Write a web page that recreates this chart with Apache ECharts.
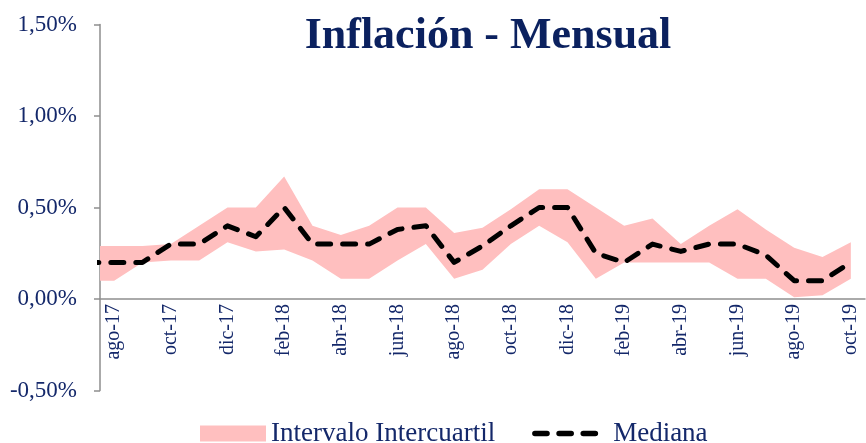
<!DOCTYPE html>
<html>
<head>
<meta charset="utf-8">
<script src="https://cdn.jsdelivr.net/npm/echarts@6/dist/echarts.min.js"></script>
<style>
html,body{margin:0;padding:0;background:#ffffff;}
#chart{width:866px;height:443px;}
</style>
</head>
<body>
<div id="chart"></div>
<script>
// Months (first entry jul-17 lies just left of the plotted range and is clipped)
const months = ['jul-17','ago-17','sep-17','oct-17','nov-17','dic-17','ene-18','feb-18','mar-18','abr-18','may-18','jun-18','jul-18',
  'ago-18','sep-18','oct-18','nov-18','dic-18','ene-19','feb-19','mar-19','abr-19','may-19','jun-19','jul-19','ago-19','sep-19','oct-19'];
// Lower quartile (%)
const lowerQ = [0.10,0.10,0.20,0.21,0.21,0.31,0.26,0.27,0.21,0.11,0.11,0.21,0.30,
  0.11,0.16,0.30,0.40,0.31,0.11,0.20,0.20,0.20,0.20,0.11,0.11,0.01,0.02,0.11];
// Median (%)
const medianQ = [0.20,0.20,0.20,0.30,0.30,0.40,0.34,0.50,0.30,0.30,0.30,0.38,0.40,
  0.20,0.29,0.40,0.50,0.50,0.25,0.20,0.30,0.26,0.30,0.30,0.24,0.10,0.10,0.20];
// Upper quartile (%)
const upperQ = [0.29,0.29,0.29,0.30,0.40,0.50,0.50,0.67,0.40,0.35,0.40,0.50,0.50,
  0.36,0.39,0.49,0.60,0.60,0.50,0.40,0.44,0.30,0.40,0.49,0.38,0.28,0.23,0.31];
// Y axis range / step (%)
const yMin = -0.5, yMax = 1.5, yStep = 0.5;

const navy = '#14286a';
const serif = '"Liberation Serif", "DejaVu Serif", serif';
const axisGray = '#8e8e8e';

const gridTop = 24.5, gridBottom = 52.5, chartH = 443;
// distance from grid bottom up to the zero line
const plotH = chartH - gridTop - gridBottom;
const zeroOffset = -plotH * (0 - yMin) / (yMax - yMin);

// data as [value, monthIndex] so that stacking is done on the value dimension
const baseData = months.map((m, i) => [lowerQ[i], i]);
const bandData = months.map((m, i) => [+(upperQ[i] - lowerQ[i]).toFixed(4), i]);
const medData = months.map((m, i) => [medianQ[i], i]);

const dashIcon = 'path://M3,0h13a3,3 0 0 1 0,6h-13a3,3 0 0 1 0,-6z M29,0h13a3,3 0 0 1 0,6h-13a3,3 0 0 1 0,-6z M55,0h13a3,3 0 0 1 0,6h-13a3,3 0 0 1 0,-6z';

const chart = echarts.init(document.getElementById('chart'), null, {renderer: 'canvas'});
chart.setOption({
  animation: false,
  backgroundColor: '#ffffff',
  title: {
    text: 'Inflación - Mensual',
    left: 488, top: 15, padding: 0, textAlign: 'center',
    textStyle: {fontFamily: serif, fontSize: 44, fontWeight: 'bold', color: '#0b215f'}
  },
  legend: {
    left: 200, top: 420, padding: 0, itemGap: 37, itemWidth: 66, itemHeight: 16,
    textStyle: {fontFamily: serif, fontSize: 27, color: navy},
    data: [
      {name: 'Intervalo Intercuartil', icon: 'rect', itemStyle: {color: '#ffbfbf'}},
      {name: 'Mediana', icon: dashIcon, itemStyle: {color: '#000000'},
        textStyle: {padding: [0, 0, 0, 10]}}
    ]
  },
  grid: {left: 100, right: 1, top: gridTop, bottom: gridBottom, containLabel: false, outerBoundsMode: 'none'},
  xAxis: [
    {
      type: 'category', data: months.slice(1), boundaryGap: true,
      position: 'bottom', offset: zeroOffset,
      axisLine: {onZero: false, lineStyle: {color: axisGray, width: 1.5}},
      axisTick: {interval: 1, length: 6, lineStyle: {color: axisGray, width: 1.5}},
      axisLabel: {interval: 1, rotate: 90, margin: 5, fontFamily: serif, fontSize: 20, color: navy},
      splitLine: {show: false}, z: 5
    },
    {type: 'value', min: 0.5, max: 27.5, show: false}
  ],
  yAxis: {
    type: 'value', min: yMin, max: yMax, interval: yStep,
    axisLine: {show: true, onZero: false, lineStyle: {color: axisGray, width: 1.5}},
    axisTick: {show: true, length: 6, lineStyle: {color: axisGray, width: 1.5}},
    axisLabel: {margin: 23, fontFamily: serif, fontSize: 23, color: navy,
      formatter: v => v.toFixed(2).replace('.', ',') + '%'},
    splitLine: {show: false}
  },
  series: [
    {
      name: 'base', type: 'line', xAxisIndex: 1, stack: 'band', data: baseData,
      encode: {x: 1, y: 0}, symbol: 'none', lineStyle: {width: 0, opacity: 0}, silent: true, z: 1
    },
    {
      name: 'Intervalo Intercuartil', type: 'line', xAxisIndex: 1, stack: 'band', data: bandData,
      encode: {x: 1, y: 0}, symbol: 'none', lineStyle: {width: 0, opacity: 0},
      itemStyle: {color: '#ffbfbf'},
      areaStyle: {color: '#ffbfbf', opacity: 1}, z: 1
    },
    {
      name: 'Mediana', type: 'line', xAxisIndex: 1, data: medData,
      encode: {x: 1, y: 0}, symbol: 'none',
      itemStyle: {color: '#000000'},
      lineStyle: {color: '#000000', width: 5, type: [13, 12], cap: 'round', join: 'round'}, z: 3
    }
  ]
});
</script>
</body>
</html>
